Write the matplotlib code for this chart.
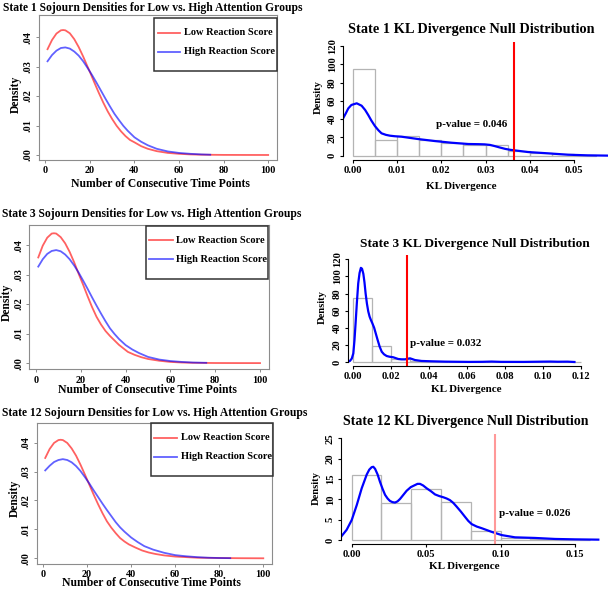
import matplotlib
matplotlib.use('Agg')
import matplotlib.pyplot as plt
from matplotlib.patches import Rectangle
from matplotlib.lines import Line2D

plt.rcParams['font.family'] = ['Liberation Serif', 'DejaVu Serif']
plt.rcParams['font.weight'] = 'bold'

# ---------------- data ----------------
s1_low_x = [1, 3, 5, 7, 8, 9, 11, 13, 15, 17, 19, 20, 22, 24, 26, 28, 30, 32, 34, 36, 38, 40, 43, 46, 50, 55, 60, 65, 70, 80, 90, 100]
s1_low_y = [0.0359, 0.0390, 0.0412, 0.0423, 0.0424, 0.0423, 0.0413, 0.0393, 0.0366, 0.0334, 0.0299, 0.0282, 0.0246, 0.0211,
            0.0178, 0.0148, 0.0122, 0.0099, 0.0080, 0.0064, 0.0051, 0.0043, 0.0030, 0.0021, 0.0013, 0.0007, 0.0004, 0.0002,
            0.0001, 0.00003, 0.00001, 0.0]
s1_high_x = [1, 3, 5, 7, 9, 11, 13, 15, 17, 19, 21, 23, 25, 27, 29, 31, 33, 35, 37, 40, 43, 46, 50, 55, 60, 65, 70, 74]
s1_high_y = [0.0318, 0.0339, 0.0354, 0.0363, 0.0365, 0.0361, 0.0351, 0.0337, 0.0318, 0.0295, 0.0271, 0.0245, 0.0218, 0.0191,
             0.0165, 0.0140, 0.0119, 0.0099, 0.0082, 0.0060, 0.0045, 0.0033, 0.0021, 0.0012, 0.0007, 0.0004, 0.0002, 0.0001]

s3_low_x = [1, 3, 5, 7, 8, 9, 11, 13, 15, 17, 19, 21, 23, 25, 27, 29, 31, 33, 35, 37, 39, 41, 44, 47, 50, 55, 60, 65, 70, 80, 90, 100]
s3_low_y = [0.0358, 0.0398, 0.0425, 0.0439, 0.0440, 0.0439, 0.0427, 0.0406, 0.0377, 0.0342, 0.0303, 0.0266, 0.0227, 0.0190,
            0.0157, 0.0131, 0.0109, 0.0092, 0.0077, 0.0062, 0.0050, 0.0038, 0.0028, 0.0020, 0.0014, 0.0008, 0.0004, 0.0002,
            0.0001, 0.00003, 0.00001, 0.0]
s3_high_x = [1, 3, 5, 7, 9, 11, 13, 15, 17, 19, 21, 23, 25, 27, 29, 31, 33, 35, 37, 40, 43, 46, 50, 55, 60, 65, 70, 76]
s3_high_y = [0.0327, 0.0352, 0.0370, 0.0380, 0.0383, 0.0379, 0.0368, 0.0352, 0.0331, 0.0307, 0.0280, 0.0252, 0.0223, 0.0195,
             0.0168, 0.0142, 0.0118, 0.0099, 0.0082, 0.0061, 0.0046, 0.0034, 0.0021, 0.0012, 0.0007, 0.0004, 0.0002, 0.0001]

s12_low_x = [1, 3, 5, 7, 8, 9, 11, 13, 15, 17, 19, 21, 23, 25, 27, 29, 31, 33, 35, 37, 39, 42, 45, 48, 51, 55, 60, 65, 70, 80, 90, 100]
s12_low_y = [0.0347, 0.0378, 0.0399, 0.0409, 0.0410, 0.0409, 0.0399, 0.0380, 0.0355, 0.0324, 0.0290, 0.0255, 0.0220, 0.0187,
             0.0156, 0.0128, 0.0106, 0.0087, 0.0070, 0.0058, 0.0048, 0.0037, 0.0027, 0.0020, 0.0015, 0.0010, 0.0006, 0.0004,
             0.0002, 0.0001, 0.00003, 0.0]
s12_high_x = [1, 3, 5, 7, 9, 11, 13, 15, 17, 19, 21, 23, 25, 27, 29, 31, 33, 35, 37, 40, 43, 46, 50, 55, 60, 65, 70, 75, 80, 85]
s12_high_y = [0.0304, 0.0320, 0.0333, 0.0340, 0.0343, 0.0340, 0.0332, 0.0319, 0.0302, 0.0281, 0.0259, 0.0235, 0.0212, 0.0189,
              0.0167, 0.0146, 0.0125, 0.0107, 0.0092, 0.0072, 0.0056, 0.0042, 0.0030, 0.0019, 0.0011, 0.0007, 0.0004, 0.0002,
              0.0001, 0.00005]

# KL null distributions: histogram bins/heights and density curves
kl1_edges = [0.0, 0.005, 0.010, 0.015, 0.020, 0.025, 0.030, 0.035, 0.040, 0.045, 0.050, 0.055]
kl1_heights = [94.9, 17.2, 21.9, 17.2, 14.2, 11.7, 11.7, 5.5, 3.3, 1.8, 0.6]
kl1_kde_x = [-0.0023, -0.0016, -0.001, -0.0003, 0.0009, 0.002, 0.0028, 0.0035, 0.0042, 0.005, 0.0058, 0.0065, 0.0075,
             0.0084, 0.0095, 0.011, 0.0148, 0.0186, 0.0223, 0.0261, 0.0285, 0.0298, 0.031, 0.032, 0.0332, 0.0344,
             0.0355, 0.0366, 0.0396, 0.0441, 0.0486, 0.053, 0.0575]
kl1_kde_y = [39.8, 46.0, 51.8, 55.5, 57.3, 54.7, 50.0, 44.5, 38.5, 32.5, 27.8, 24.5, 22.8, 21.9, 21.3, 20.8, 18.2, 16.0,
             14.2, 12.8, 12.6, 12.4, 11.8, 10.6, 9.0, 7.5, 6.5, 5.8, 4.0, 2.6, 1.1, 0.4, 0.1]
kl1_observed = 0.0365
kl1_pval = 'p-value = 0.046'

kl3_edges = [0.0, 0.01, 0.02, 0.03, 0.04, 0.05, 0.06, 0.07, 0.08, 0.09, 0.10, 0.11, 0.12]
kl3_heights = [74.4, 18.3, 4.0, 1.0, 0.5, 0.2, 0.1, 0.3, 0.1, 0.2, 0.3, 0.2]
kl3_kde_x = [-0.0035, -0.0018, -0.0008, 0.0, 0.0006, 0.0012, 0.0019, 0.0026, 0.0033, 0.0040, 0.0046, 0.0053, 0.0059,
             0.0065, 0.0072, 0.0079, 0.0086, 0.0093, 0.0101, 0.011, 0.0119, 0.0128, 0.0139, 0.015, 0.0162, 0.0176,
             0.019, 0.0211, 0.0237, 0.0255, 0.0273, 0.0287, 0.0299, 0.031, 0.0325, 0.036, 0.0413, 0.0484, 0.061, 0.068,
             0.073, 0.078, 0.09, 0.1, 0.104, 0.108, 0.113, 0.1167]
kl3_kde_y = [0.0, 1.2, 4.0, 10.0, 25.0, 45.0, 70.0, 92.0, 104.0, 110.0, 109.0, 103.0, 93.0, 80.0, 68.0, 59.0, 53.0,
             49.0, 45.0, 40.0, 33.0, 26.0, 18.0, 12.0, 9.0, 7.0, 6.2, 5.5, 3.5, 3.1, 3.1, 3.8, 4.3, 3.5, 2.3, 1.2,
             0.8, 0.4, 0.1, 0.2, 0.5, 0.15, 0.1, 0.4, 0.5, 0.3, 0.4, 0.0]
kl3_observed = 0.0285
kl3_pval = 'p-value = 0.032'

kl12_edges = [0.0, 0.02, 0.04, 0.06, 0.08, 0.10, 0.12, 0.14, 0.16]
kl12_heights = [16.1, 9.0, 12.5, 9.3, 2.3, 0.6, 0.25, 0.1]
kl12_kde_x = [-0.0067, -0.0034, 0.0, 0.0034, 0.0067, 0.0101, 0.0118, 0.0134, 0.0145, 0.0157, 0.0174, 0.019, 0.0207,
              0.0224, 0.0241, 0.0257, 0.0274, 0.0291, 0.0308, 0.0325, 0.0347, 0.0369, 0.0397, 0.0425, 0.0442, 0.0459,
              0.048, 0.0504, 0.0532, 0.056, 0.0588, 0.0616, 0.0638, 0.066, 0.0683, 0.0705, 0.0733, 0.0761, 0.0783,
              0.0806, 0.084, 0.0873, 0.094, 0.1008, 0.1097, 0.123, 0.1366, 0.15, 0.1657]
kl12_kde_y = [1.0, 2.5, 4.9, 8.6, 12.7, 16.1, 17.3, 17.9, 18.0, 17.5, 16.1, 14.3, 12.6, 11.1, 10.2, 9.6, 9.3, 9.2, 9.5,
              10.1, 11.1, 12.1, 13.0, 13.5, 13.8, 13.8, 13.4, 12.7, 12.0, 11.2, 10.8, 10.5, 10.2, 9.8, 9.1, 8.2, 7.0,
              5.7, 4.7, 3.9, 3.3, 2.9, 2.0, 1.2, 0.65, 0.5, 0.25, 0.15, 0.08]
kl12_observed = 0.0965
kl12_pval = 'p-value = 0.026'

soj_xticks = [0, 20, 40, 60, 80, 100]
soj_yticks = [0.0, 0.01, 0.02, 0.03, 0.04]
soj_yticklabels = ['.00', '.01', '.02', '.03', '.04']
legend_labels = ['Low Reaction Score', 'High Reaction Score']

# ---------------- figure ----------------
W, H = 608, 589
fig = plt.figure(figsize=(W / 100, H / 100), dpi=100)

RED = (1.0, 0.0, 0.0, 0.62)
BLUE = (0.0, 0.0, 1.0, 0.62)


def add_ax(l, t, r, b):
    return fig.add_axes([l / W, 1 - b / H, (r - l) / W, (b - t) / H])


def fxy(x, y):
    return x / W, 1 - y / H


def place_labels(ax, box, xl, yl):
    l, t, r, b = box
    ax.xaxis.set_label_coords((xl[0] - l) / (r - l), (b - xl[1]) / (b - t))
    ax.yaxis.set_label_coords((yl[0] - l) / (r - l), (b - yl[1]) / (b - t))
    ax.xaxis.label.set_va('center')
    ax.yaxis.label.set_va('center')


def sojourn_panel(box, ylim, lx, ly, hx, hy, title, title_pos, xl, yl, leg):
    ax = add_ax(*box)
    ax.plot(lx, ly, color=RED, lw=1.3)
    ax.plot(hx, hy, color=BLUE, lw=1.3)
    ax.set_xlim(-2.96, 103.96)
    ax.set_ylim(*ylim)
    ax.set_xticks(soj_xticks)
    ax.set_xticklabels([str(v) for v in soj_xticks])
    ax.set_yticks(soj_yticks)
    ax.set_yticklabels(soj_yticklabels, rotation=90, va='center')
    for s in ax.spines.values():
        s.set_color('#8c8c8c')
        s.set_linewidth(0.8)
    ax.tick_params(direction='out', length=2.5, width=0.7, color='#8c8c8c', labelsize=7.3, pad=2)
    ax.set_xlabel('Number of Consecutive Time Points', fontsize=8.4, fontweight='bold')
    ax.set_ylabel('Density', fontsize=8.4, fontweight='bold')
    place_labels(ax, box, xl, yl)
    tx, ty = fxy(*title_pos)
    fig.text(tx, ty, title, ha='left', va='center', fontsize=8.4, fontweight='bold')
    # legend (R style box)
    (bl, bt, br, bb), lx0, lx1, txx, rows = leg
    fig.add_artist(Rectangle(fxy(bl, bb), (br - bl) / W, (bb - bt) / H, transform=fig.transFigure,
                             fill=False, edgecolor='#333333', lw=1.1))
    for yy, lab, c in zip(rows, legend_labels, [RED, BLUE]):
        x0, y0 = fxy(lx0, yy)
        x1, _ = fxy(lx1, yy)
        fig.add_artist(Line2D([x0, x1], [y0, y0], transform=fig.transFigure, color=c, lw=1.3))
        fig.text(txx / W, y0, lab, ha='left', va='center', fontsize=7.5, fontweight='bold')
    return ax


def kl_panel(box, xlim, ylim, edges, heights, kx, ky, obs, obs_color, xticks, xticklabels, yticks,
             ptxt, ppos, title, title_pos, title_size, xl, yl):
    ax = add_ax(*box)
    widths = [edges[i + 1] - edges[i] for i in range(len(heights))]
    ax.bar(edges[:-1], heights, width=widths, align='edge', fill=False, edgecolor='#b4b4b4', lw=0.9)
    ax.plot(kx, ky, color='#0000ff', lw=1.6, solid_joinstyle='round')
    ax.axvline(obs, color=obs_color, lw=1.5)
    ax.set_xlim(*xlim)
    ax.set_ylim(*ylim)
    ax.set_xticks(xticks)
    ax.set_xticklabels(xticklabels)
    ax.set_yticks(yticks)
    ax.set_yticklabels([str(v) for v in yticks], rotation=90, va='center')
    ax.spines['top'].set_visible(False)
    ax.spines['right'].set_visible(False)
    ax.spines['left'].set_bounds(yticks[0], yticks[-1])
    ax.spines['bottom'].set_bounds(xticks[0], xticks[-1])
    for s in ('left', 'bottom'):
        ax.spines[s].set_linewidth(0.8)
    ax.tick_params(direction='out', length=2.5, width=0.8, labelsize=7.6, pad=2)
    ax.text(ppos[0], ppos[1], ptxt, ha='center', va='center', fontsize=7.9, fontweight='bold')
    ax.set_xlabel('KL Divergence', fontsize=7.9, fontweight='bold')
    ax.set_ylabel('Density', fontsize=7.6, fontweight='bold')
    place_labels(ax, box, xl, yl)
    tx, ty = fxy(*title_pos)
    fig.text(tx, ty, title, ha='center', va='center', fontsize=title_size, fontweight='bold')
    return ax


# left column
sojourn_panel((38.7, 15, 277, 160), (-0.0017, 0.0475), s1_low_x, s1_low_y, s1_high_x, s1_high_y,
              'State 1 Sojourn Densities for Low vs. High Attention Groups', (2.7, 7.5),
              (160, 184.3), (16, 94.7),
              ((154.3, 18.3, 276.7, 70.7), 158, 180, 184, (32.7, 51.7)))
sojourn_panel((29.4, 225, 268.9, 369.3), (-0.0021, 0.0468), s3_low_x, s3_low_y, s3_high_x, s3_high_y,
              'State 3 Sojourn Densities for Low vs. High Attention Groups', (1.7, 214),
              (147, 390), (6.7, 302.5),
              ((145.7, 226, 268.3, 279), 149.3, 172.7, 176, (240, 259.3)))
sojourn_panel((36.5, 423, 272, 563.5), (-0.0018, 0.0468), s12_low_x, s12_low_y, s12_high_x, s12_high_y,
              'State 12 Sojourn Densities for Low vs. High Attention Groups', (1.7, 413.3),
              (151.3, 583.3), (15, 498),
              ((151, 423.3, 272.7, 475.7), 154.3, 177.3, 181, (437.7, 456.7)))

# right column
kl_panel((343, 41.6, 609.6, 160.1), (-0.0022, 0.058), (-4.8, 124.8), kl1_edges, kl1_heights, kl1_kde_x, kl1_kde_y,
         kl1_observed, '#ff0000', [0.0, 0.01, 0.02, 0.03, 0.04, 0.05], ['0.00', '0.01', '0.02', '0.03', '0.04', '0.05'],
         [0, 20, 40, 60, 80, 100, 120], kl1_pval, (0.0269, 33.6),
         'State 1 KL Divergence Null Distribution', (471.3, 29.3), 10.3, (461.7, 186.7), (318.3, 97.5))
kl_panel((348, 255.2, 582.6, 366.1), (-0.0028, 0.121), (-4.8, 124.8), kl3_edges, kl3_heights, kl3_kde_x, kl3_kde_y,
         kl3_observed, '#ff0000', [0.0, 0.02, 0.04, 0.06, 0.08, 0.10, 0.12],
         ['0.00', '0.02', '0.04', '0.06', '0.08', '0.10', '0.12'],
         [0, 20, 40, 60, 80, 100, 120], kl3_pval, (0.049, 21.8),
         'State 3 KL Divergence Null Distribution', (474.7, 244), 9.6, (466.7, 390), (322.7, 307.5))
kl_panel((341, 434.1, 601, 544.2), (-0.0072, 0.1675), (-1.04, 26.04), kl12_edges, kl12_heights, kl12_kde_x, kl12_kde_y,
         kl12_observed, '#ff9999', [0.0, 0.05, 0.10, 0.15], ['0.00', '0.05', '0.10', '0.15'],
         [0, 5, 10, 15, 20, 25], kl12_pval, (0.123, 6.4),
         'State 12 KL Divergence Null Distribution', (465.3, 421.7), 10.0, (464.5, 566.7), (316.7, 488))

fig.savefig('out.png', dpi=100)
